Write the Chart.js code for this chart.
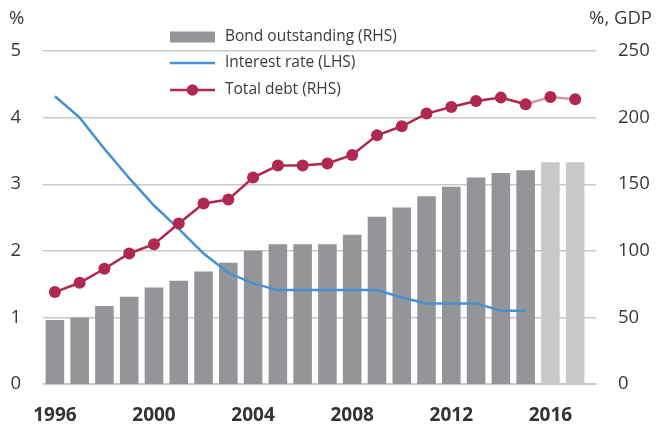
<!DOCTYPE html>
<html><head><meta charset="utf-8">
<script src="https://cdn.jsdelivr.net/npm/chart.js@4/dist/chart.umd.min.js"></script>
<style>html,body{margin:0;padding:0;background:#fff}#wrap{width:667px;height:426px;position:relative}</style>
</head><body><div id="wrap"><canvas id="c" width="667" height="426"></canvas></div>
<script>
const years = [1996,1997,1998,1999,2000,2001,2002,2003,2004,2005,2006,2007,2008,2009,2010,2011,2012,2013,2014,2015,2016,2017];
const bondOutstanding = [48,50,58.5,65.5,72.5,77.5,84.5,91,100,105,105,105,112,125.5,132.5,141,148,155,158.5,160.5,166.5,166.5];
const interestRate = [4.32,4.0,3.53,3.09,2.68,2.33,1.96,1.67,1.51,1.41,1.41,1.41,1.41,1.41,1.3,1.21,1.21,1.21,1.1,1.1,null,null];
const totalDebt = [69,76,86.5,98,105,120.5,135.5,138.5,155,164,164,165.5,172,186.7,193.5,203,208,212.5,215,210,215.5,213.7];
const lastActualYear = 2015;
const xTickYears = [1996,2000,2004,2008,2012,2016];
const leftTicks = [0,1,2,3,4,5];
const rightTicks = [0,50,100,150,200,250];
const seriesNames = ['Bond outstanding (RHS)','Interest rate (LHS)','Total debt (RHS)'];
const leftUnit = '%';
const rightUnit = '%, GDP';

const C_BAR = '#939598', C_BAR_LIGHT = '#c7c8ca', C_BLUE = '#4591d4', C_RED = '#b0284f', C_RED_LIGHT = '#d994ad';
const FONT = "'Open Sans', sans-serif";
const TXT = '#3a3a3a';

const toXY = arr => years.map((y,i)=>({x:y,y:arr[i]})).filter(p=>p.y!==null);

const overlay = {
  id:'overlay',
  afterDraw(chart){
    const ctx = chart.ctx;
    ctx.save();
    ctx.fillStyle = TXT;
    ctx.font = "18.5px " + FONT;
    ctx.textBaseline = 'middle';
    ctx.textAlign = 'left';
    ctx.fillText(leftUnit, 9, 19);
    ctx.textAlign = 'right';
    ctx.fillText(rightUnit, 652, 19);
    // legend
    const lx = 170, lw = 45, tx = 225;
    const rows = [37, 63, 90];
    ctx.font = "15.5px " + FONT;
    ctx.textAlign = 'left';
    ctx.fillStyle = C_BAR;
    ctx.fillRect(lx, rows[0]-5.5, lw, 11);
    ctx.strokeStyle = C_BLUE; ctx.lineWidth = 2.5;
    ctx.beginPath(); ctx.moveTo(lx, rows[1]); ctx.lineTo(lx+lw, rows[1]); ctx.stroke();
    ctx.strokeStyle = C_RED;
    ctx.beginPath(); ctx.moveTo(lx, rows[2]); ctx.lineTo(lx+lw, rows[2]); ctx.stroke();
    ctx.fillStyle = C_RED;
    ctx.beginPath(); ctx.arc(lx+lw/2, rows[2], 5.8, 0, Math.PI*2); ctx.fill();
    ctx.fillStyle = TXT;
    seriesNames.forEach((n,i)=>ctx.fillText(n, tx, rows[i]));
    ctx.restore();
  }
};

new Chart(document.getElementById('c'), {
  type:'bar',
  data:{
    datasets:[
      {type:'line', label:seriesNames[2], data:toXY(totalDebt), yAxisID:'y2', order:1,
        borderColor:C_RED, borderWidth:2.5, pointRadius:6, pointHoverRadius:6, pointBackgroundColor:C_RED, pointBorderWidth:0,
        tension:0, segment:{borderColor:c => years[c.p1DataIndex] > lastActualYear ? C_RED_LIGHT : C_RED}},
      {type:'line', label:seriesNames[1], data:toXY(interestRate), yAxisID:'y', order:2,
        borderColor:C_BLUE, borderWidth:2.5, pointRadius:0, tension:0},
      {type:'bar', label:seriesNames[0], data:toXY(bondOutstanding), yAxisID:'y2', order:3,
        backgroundColor: years.map(y => y > lastActualYear ? C_BAR_LIGHT : C_BAR),
        barPercentage:0.75, categoryPercentage:1}
    ]
  },
  options:{
    responsive:false, animation:false, devicePixelRatio:1,
    layout:{padding:{top:51,left:0,right:0,bottom:0}},
    plugins:{legend:{display:false}, tooltip:{enabled:false}},
    scales:{
      x:{type:'linear', min:1995.52, max:2017.84, offset:false,
        afterBuildTicks:s=>{s.ticks = xTickYears.map(v=>({value:v}));},
        afterFit:s=>{s.height=42;},
        grid:{display:false, offset:false}, border:{display:false},
        ticks:{callback:v=>String(v), color:'#333', font:{family:FONT, size:19, weight:'bold'}, padding:12, maxRotation:0, autoSkip:false}},
      y:{position:'left', min:0, max:5,
        afterBuildTicks:s=>{s.ticks = leftTicks.map(v=>({value:v}));},
        afterFit:s=>{s.width=43;},
        grid:{color:'#c8c8c8', lineWidth:c=>c.tick && c.tick.value===0 ? 2 : 1.4, drawTicks:false},
        border:{display:false},
        ticks:{color:TXT, font:{family:FONT, size:18.5}, padding:22}},
      y2:{position:'right', min:0, max:250,
        afterBuildTicks:s=>{s.ticks = rightTicks.map(v=>({value:v}));},
        afterFit:s=>{s.width=71;},
        grid:{display:false, drawTicks:false}, border:{display:false},
        ticks:{color:TXT, font:{family:FONT, size:18.5}, padding:22}}
    }
  },
  plugins:[overlay]
});
</script></body></html>
